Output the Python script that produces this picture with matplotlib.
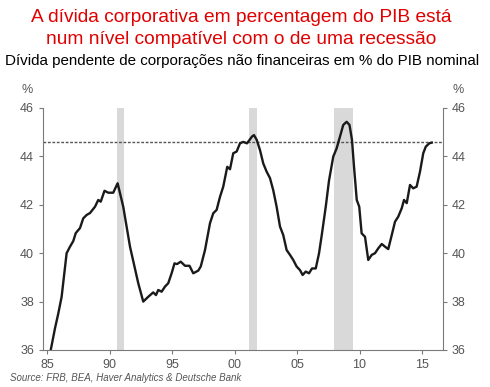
import matplotlib
matplotlib.use("Agg")
import matplotlib.pyplot as plt

plt.rcParams["font.family"] = ["Liberation Sans", "DejaVu Sans"]

# Debt of non-financial corporations, % of nominal GDP
years = [
    1985.3, 1985.64, 1985.9, 1986.17, 1986.57, 1986.84, 1987.1, 1987.3, 1987.64,
    1987.9, 1988.17, 1988.44, 1988.84, 1989.1, 1989.3, 1989.6, 1989.9, 1990.3,
    1990.65, 1991.1, 1991.64, 1992.3, 1992.7, 1993.1, 1993.5, 1993.72, 1993.9,
    1994.17, 1994.44, 1994.7, 1994.97, 1995.2, 1995.4, 1995.7, 1996.04, 1996.4,
    1996.7, 1997.1, 1997.3, 1997.64, 1998.04, 1998.3, 1998.57, 1998.84, 1999.1,
    1999.42, 1999.64, 1999.9, 2000.17, 2000.44, 2000.7, 2001.0, 2001.4, 2001.56,
    2001.78, 2002.04, 2002.3, 2002.57, 2002.84, 2003.1, 2003.37, 2003.64, 2003.9,
    2004.17, 2004.44, 2004.7, 2004.97, 2005.24, 2005.45, 2005.7, 2005.96, 2006.2,
    2006.5, 2006.76, 2007.0, 2007.3, 2007.56, 2007.9, 2008.17, 2008.44, 2008.7,
    2008.97, 2009.2, 2009.4, 2009.56, 2009.78, 2009.98, 2010.17, 2010.44, 2010.7,
    2010.98, 2011.24, 2011.5, 2011.78, 2012.04, 2012.3, 2012.58, 2012.84, 2013.1,
    2013.38, 2013.56, 2013.78, 2014.04, 2014.3, 2014.57, 2014.84, 2015.1, 2015.3,
    2015.58, 2015.78,
]
debt = [
    36.0, 36.9, 37.5, 38.2, 40.0, 40.27, 40.5, 40.83, 41.04,
    41.44, 41.58, 41.66, 41.92, 42.2, 42.13, 42.58, 42.5, 42.5,
    42.89, 41.92, 40.27, 38.76, 38.0, 38.2, 38.38, 38.27, 38.48,
    38.41, 38.62, 38.76, 39.17, 39.58, 39.55, 39.65, 39.48, 39.48,
    39.17, 39.28, 39.45, 40.13, 41.24, 41.65, 41.79, 42.33, 42.75,
    43.57, 43.47, 44.13, 44.2, 44.54, 44.6, 44.54, 44.82, 44.88,
    44.68, 44.26, 43.71, 43.37, 43.1, 42.6, 41.92, 41.1, 40.75,
    40.13, 39.93, 39.72, 39.45, 39.3, 39.1, 39.24, 39.17, 39.37,
    39.37, 39.99, 40.82, 41.92, 43.0, 43.99, 44.33, 44.82, 45.3,
    45.43, 45.3, 44.68, 43.58, 42.2, 41.92, 40.82, 40.68, 39.72,
    39.93, 40.0, 40.2, 40.38, 40.27, 40.17, 40.75, 41.3, 41.51,
    41.86, 42.2, 42.07, 42.82, 42.68, 42.75, 43.37, 44.13, 44.4,
    44.54, 44.57,
]

recessions = [(1990.58, 1991.17), (2001.17, 2001.83), (2007.92, 2009.5)]
current_level = 44.6

xticks = [1985, 1990, 1995, 2000, 2005, 2010, 2015]
xticklabels = ["85", "90", "95", "00", "05", "10", "15"]
yticks = [36, 38, 40, 42, 44, 46]

GRAY = "#7a7a7a"

fig = plt.figure(figsize=(4.9, 3.87), dpi=100)
ax = fig.add_axes([43 / 490, 37 / 387, 400 / 490, 242 / 387])

for start, end in recessions:
    ax.axvspan(start, end, color="#d9d9d9", lw=0, zorder=0)

ax.axhline(current_level, color="#555555", lw=1.0, ls=(0, (2, 1.2)), zorder=1)
ax.plot(years, debt, color="#1a1a1a", lw=1.7, zorder=2)

ax.set_xlim(1984.68, 2016.68)
ax.set_ylim(36, 46)
ax.set_xticks(xticks)
ax.set_xticklabels(xticklabels)
ax.set_yticks(yticks)

ax.spines["top"].set_visible(False)
for side in ("left", "right", "bottom"):
    ax.spines[side].set_color(GRAY)
    ax.spines[side].set_linewidth(0.8)
ax.tick_params(axis="both", colors=GRAY, labelcolor="#555555", labelsize=9,
               length=3, width=0.8, direction="out")
ax.tick_params(axis="y", right=True, labelright=True)

fig.text(27 / 490, 1 - 90 / 387, "%", ha="center", va="center",
         fontsize=9, color="#555555")
fig.text(458 / 490, 1 - 90 / 387, "%", ha="center", va="center",
         fontsize=9, color="#555555")

fig.text(241 / 490, 1 - 17 / 387, "A dívida corporativa em percentagem do PIB está",
         ha="center", va="center", fontsize=13.8, color="#e00000")
fig.text(241 / 490, 1 - 39 / 387, "num nível compatível com o de uma recessão",
         ha="center", va="center", fontsize=13.8, color="#e00000")
fig.text(242 / 490, 1 - 61 / 387,
         "Dívida pendente de corporações não financeiras em % do PIB nominal",
         ha="center", va="center", fontsize=10.9, color="black")
fig.text(10 / 490, 1 - 378 / 387,
         "Source: FRB, BEA, Haver Analytics & Deutsche Bank",
         ha="left", va="center", fontsize=7, style="italic", color="#555555")

fig.savefig("out.png", dpi=100)
